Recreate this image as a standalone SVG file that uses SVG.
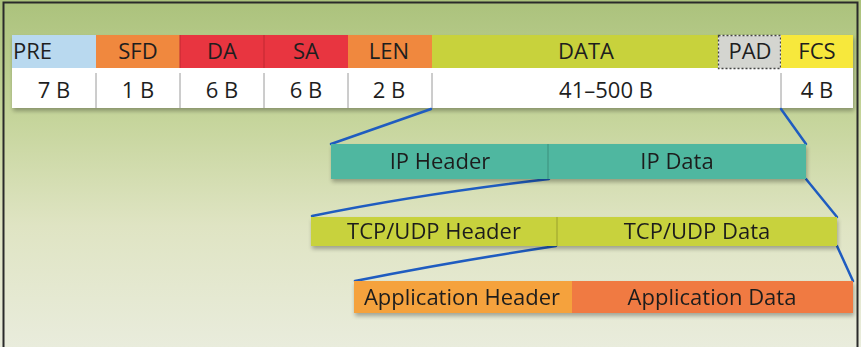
<svg xmlns="http://www.w3.org/2000/svg" width="861" height="347" viewBox="0 0 861 347">
<defs>
<linearGradient id="bg" x1="0" y1="0" x2="0" y2="1">
<stop offset="0" stop-color="#abc27c"/>
<stop offset="0.35" stop-color="#c6d59c"/>
<stop offset="0.65" stop-color="#dfe4c3"/>
<stop offset="1" stop-color="#e9ecdc"/>
</linearGradient>
<filter id="sh" x="-5%" y="-20%" width="110%" height="160%">
<feGaussianBlur in="SourceAlpha" stdDeviation="2"/>
<feOffset dx="1" dy="3" result="b"/>
<feComponentTransfer><feFuncA type="linear" slope="0.3"/></feComponentTransfer>
<feMerge><feMergeNode/><feMergeNode in="SourceGraphic"/></feMerge>
</filter>
</defs>
<style>
text{font-family:"Open Sans","Noto Sans","Liberation Sans",sans-serif;font-size:22px;fill:#1e1e1e;text-anchor:middle}
.sep{stroke:#9a9a9a;stroke-width:1}
.con{stroke:#1f5cc0;stroke-width:2.5;fill:none;stroke-linecap:round}
</style>
<rect x="0" y="0" width="861" height="347" fill="url(#bg)"/>
<path d="M3.5 347 V2.5 H857.5 V347" fill="none" stroke="#2a2a2a" stroke-width="2"/>

<g id="frame-header" filter="url(#sh)">
<rect x="12" y="35" width="841" height="73" fill="#ffffff"/>
</g>
<g id="pre"><rect x="12" y="35" width="84" height="33" fill="#b9d9ef"/><text x="13" y="59" style="text-anchor:start">PRE</text><text x="54" y="98">7 B</text></g>
<g id="sfd"><rect x="96" y="35" width="84" height="33" fill="#f0883e"/><text x="138" y="59">SFD</text><text x="138" y="98">1 B</text></g>
<g id="da"><rect x="180" y="35" width="84" height="33" fill="#e83540"/><text x="222" y="59">DA</text><text x="222" y="98">6 B</text></g>
<g id="sa"><rect x="264" y="35" width="84" height="33" fill="#e83540"/><text x="306" y="59">SA</text><text x="306" y="98">6 B</text></g>
<g id="len"><rect x="348" y="35" width="84" height="33" fill="#f0883e"/><text x="389" y="59">LEN</text><text x="389" y="98">2 B</text></g>
<g id="data"><rect x="432" y="35" width="286" height="33" fill="#c8d23c"/><text x="586" y="59">DATA</text><text x="606" y="98">41–500 B</text></g>
<g id="pad"><rect x="718.5" y="35.5" width="62" height="33" fill="#d4d5d0" stroke="#444" stroke-width="1.3" stroke-dasharray="2 2"/><text x="750" y="59">PAD</text></g>
<g id="fcs"><rect x="781" y="35" width="72" height="33" fill="#f7e83c"/><text x="817" y="59">FCS</text><text x="817" y="98">4 B</text></g>
<g id="separators">
<line class="sep" x1="96" y1="73" x2="96" y2="108"/>
<line class="sep" x1="180" y1="73" x2="180" y2="108"/>
<line class="sep" x1="264" y1="73" x2="264" y2="108"/>
<line class="sep" x1="348" y1="73" x2="348" y2="108"/>
<line class="sep" x1="432" y1="73" x2="432" y2="108"/>
<line class="sep" x1="781" y1="73" x2="781" y2="108"/>
<line x1="180" y1="35" x2="180" y2="68" stroke="#c02830" stroke-width="1"/>
<line x1="264" y1="35" x2="264" y2="68" stroke="#c02830" stroke-width="1"/>
</g>

<g id="connectors">
<path class="con" d="M431 109 L331 144"/>
<path class="con" d="M781 109 L806 144"/>
<path class="con" d="M549 179 Q420 194 312 216"/>
<path class="con" d="M806 179 L837 217"/>
<path class="con" d="M556 246 Q450 262 355 281"/>
<path class="con" d="M837 246 L853 281"/>
</g>

<g id="ip" filter="url(#sh)">
<rect x="331" y="144" width="475" height="35" fill="#4fb7a0"/>
<line x1="548" y1="144" x2="548" y2="179" stroke="#3a8f7c" stroke-width="1"/>
<text x="440" y="169">IP Header</text>
<text x="677" y="169">IP Data</text>
</g>
<g id="tcp" filter="url(#sh)">
<rect x="311" y="217" width="526" height="29" fill="#c8d23c"/>
<line x1="557" y1="217" x2="557" y2="246" stroke="#9aa030" stroke-width="1"/>
<text x="434" y="239">TCP/UDP Header</text>
<text x="697" y="239">TCP/UDP Data</text>
</g>
<g id="app" filter="url(#sh)">
<rect x="354" y="281" width="218" height="32" fill="#f5a23e"/>
<rect x="572" y="281" width="281" height="32" fill="#f07a42"/>
<text x="462" y="305">Application Header</text>
<text x="712" y="305">Application Data</text>
</g>
</svg>
